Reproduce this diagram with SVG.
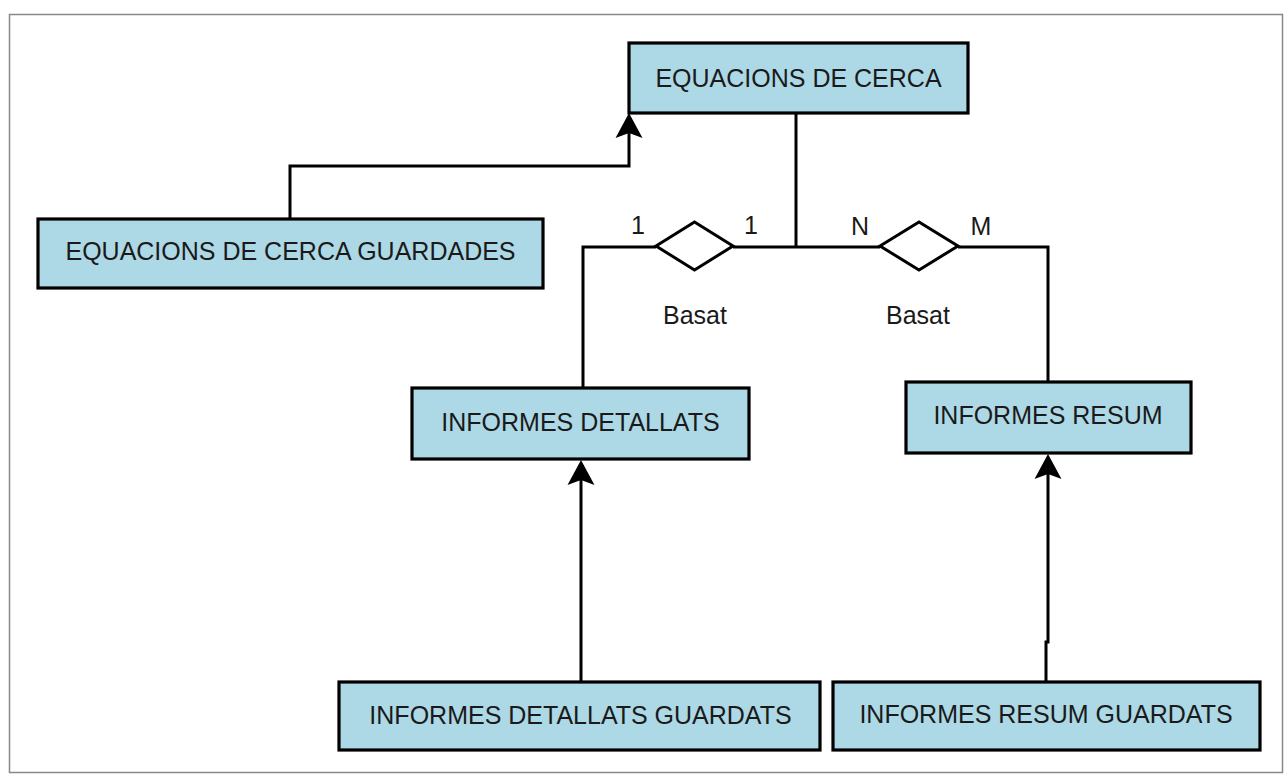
<svg xmlns="http://www.w3.org/2000/svg" width="1284" height="783" viewBox="0 0 1284 783">
<style>
.box{fill:#add8e6;stroke:#000;stroke-width:3.2}
.t{font-family:"Liberation Sans",Arial,sans-serif;font-size:25px;fill:#1a1a1a;text-anchor:middle}
.ln{fill:none;stroke:#000;stroke-width:3}
.dia{fill:#fff;stroke:#000;stroke-width:3;stroke-linejoin:miter}
</style>
<defs>
<marker id="arr" viewBox="-6 -14 27 28" refX="0" refY="0" markerWidth="27" markerHeight="28" markerUnits="userSpaceOnUse" orient="auto">
<path d="M20,0 L-5,-13.5 L0,0 L-5,13.5 Z" fill="#000"/>
</marker>
</defs>
<rect x="9.5" y="14.5" width="1273" height="758" fill="#fff" stroke="#888" stroke-width="1.5"/>
<g id="connectors">
<path class="ln" d="M290,219 V166 H629 V133" marker-end="url(#arr)"/>
<path class="ln" d="M796,113 V247"/>
<path class="ln" d="M583,388 V247 H656"/>
<path class="ln" d="M733,247 H880"/>
<path class="ln" d="M958,247 H1048 V382"/>
<path class="ln" d="M581,682 V480" marker-end="url(#arr)"/>
<path class="ln" d="M1046,682 V642 H1048 V474" marker-end="url(#arr)"/>
</g>
<g id="rel-basat-1">
<polygon class="dia" points="656,246 694.5,222 733,246 694.5,270"/>
<text class="t" x="695" y="324">Basat</text>
<text class="t" x="638" y="234">1</text>
<text class="t" x="751" y="234">1</text>
</g>
<g id="rel-basat-2">
<polygon class="dia" points="880,246 919,222 958,246 919,270"/>
<text class="t" x="918" y="324">Basat</text>
<text class="t" x="860" y="235">N</text>
<text class="t" x="981" y="235">M</text>
</g>
<g id="equacions-de-cerca">
<rect class="box" x="629" y="43" width="339" height="70"/>
<text class="t" x="798.5" y="87">EQUACIONS DE CERCA</text>
</g>
<g id="equacions-de-cerca-guardades">
<rect class="box" x="38" y="219" width="505" height="69"/>
<text class="t" x="290.5" y="260">EQUACIONS DE CERCA GUARDADES</text>
</g>
<g id="informes-detallats">
<rect class="box" x="412" y="388" width="337" height="71"/>
<text class="t" x="580.5" y="431">INFORMES DETALLATS</text>
</g>
<g id="informes-resum">
<rect class="box" x="906" y="382" width="285" height="71"/>
<text class="t" x="1048" y="424">INFORMES RESUM</text>
</g>
<g id="informes-detallats-guardats">
<rect class="box" x="339" y="682" width="481" height="68"/>
<text class="t" x="580.5" y="724">INFORMES DETALLATS GUARDATS</text>
</g>
<g id="informes-resum-guardats">
<rect class="box" x="833" y="682" width="427" height="68"/>
<text class="t" x="1046" y="723">INFORMES RESUM GUARDATS</text>
</g>
</svg>
